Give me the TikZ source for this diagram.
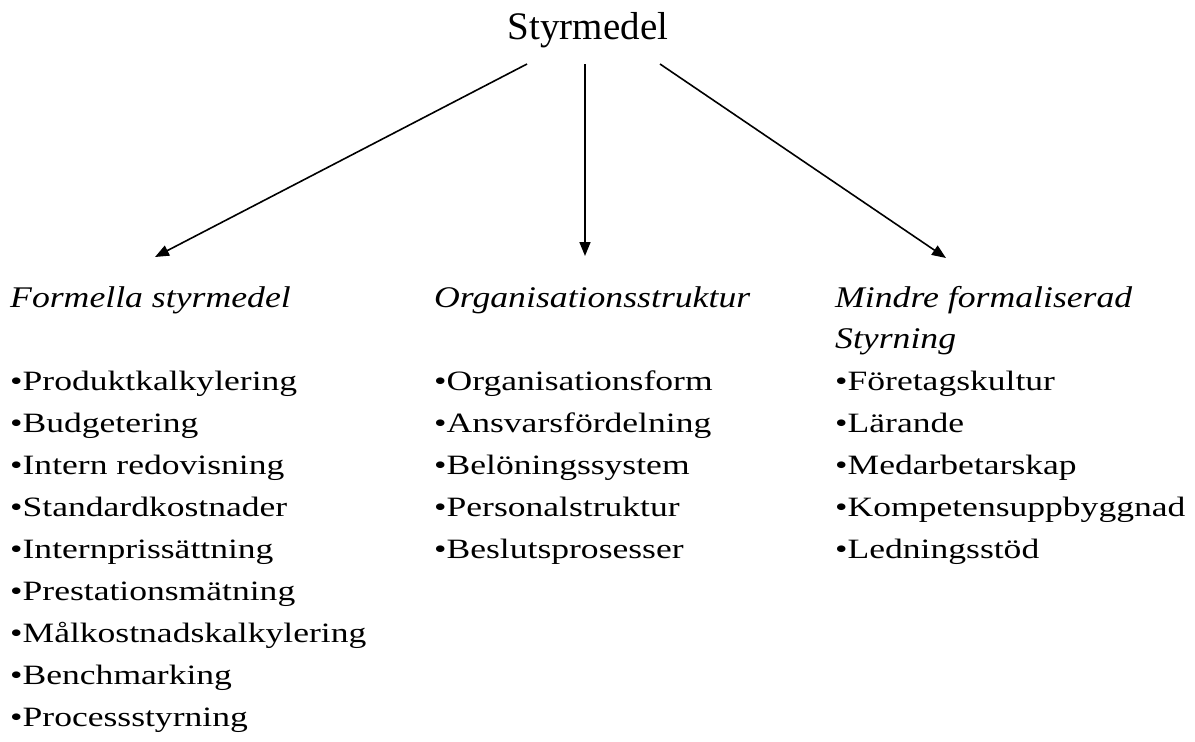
\documentclass[tikz,border=0pt]{standalone}
\usepackage{fontspec}
\setmainfont{Liberation Serif}
\usetikzlibrary{arrows.meta}
\newcommand\ws[1]{\scalebox{1.27}[1.0]{#1}}
\newcommand\wh[1]{\scalebox{1.19}[1.0]{#1}}
\tikzset{
  txt/.style={anchor=base west, inner sep=0pt, font=\fontsize{28}{32}\selectfont},
  head/.style={anchor=base west, inner sep=0pt, font=\fontsize{30}{34}\selectfont\itshape},
  conn/.style={line width=1.6pt, -{Triangle[length=14pt,width=11pt]}}
}
\begin{document}
\begin{tikzpicture}[x=1pt,y=-1pt]
\useasboundingbox (0,0) rectangle (1195,742);
\node[anchor=base, inner sep=0pt, font=\fontsize{39}{44}\selectfont] (top) at (588,39) {Styrmedel};
\coordinate (s1) at (527,64);
\coordinate (s2) at (585,64);
\coordinate (s3) at (660,64);
\coordinate (t1) at (155,257);
\coordinate (t2) at (585,256);
\coordinate (t3) at (946,258);
\draw[conn] (s1) -- (t1);
\draw[conn] (s2) -- (t2);
\draw[conn] (s3) -- (t3);
% left column
\node[head] (h1) at (10,307) {\wh{Formella styrmedel}};
\foreach \t [count=\i] in {Produktkalkylering,Budgetering,Intern redovisning,Standardkostnader,Internprissättning,Prestationsmätning,Målkostnadskalkylering,Benchmarking,Processstyrning}
  \node[txt] (a\i) at (10,{390+42*(\i-1)}) {\ws{•\t}};
% middle column
\node[head] (h2) at (434,307) {\wh{Organisationsstruktur}};
\foreach \t [count=\i] in {Organisationsform,Ansvarsfördelning,Belöningssystem,Personalstruktur,Beslutsprosesser}
  \node[txt] (b\i) at (434,{390+42*(\i-1)}) {\ws{•\t}};
% right column
\node[head] (h3) at (835,307) {\wh{Mindre formaliserad}};
\node[head] (h3b) at (835,348) {\wh{Styrning}};
\foreach \t [count=\i] in {Företagskultur,Lärande,Medarbetarskap,Kompetensuppbyggnad,Ledningsstöd}
  \node[txt] (c\i) at (835,{390+42*(\i-1)}) {\ws{•\t}};
\end{tikzpicture}
\end{document}
